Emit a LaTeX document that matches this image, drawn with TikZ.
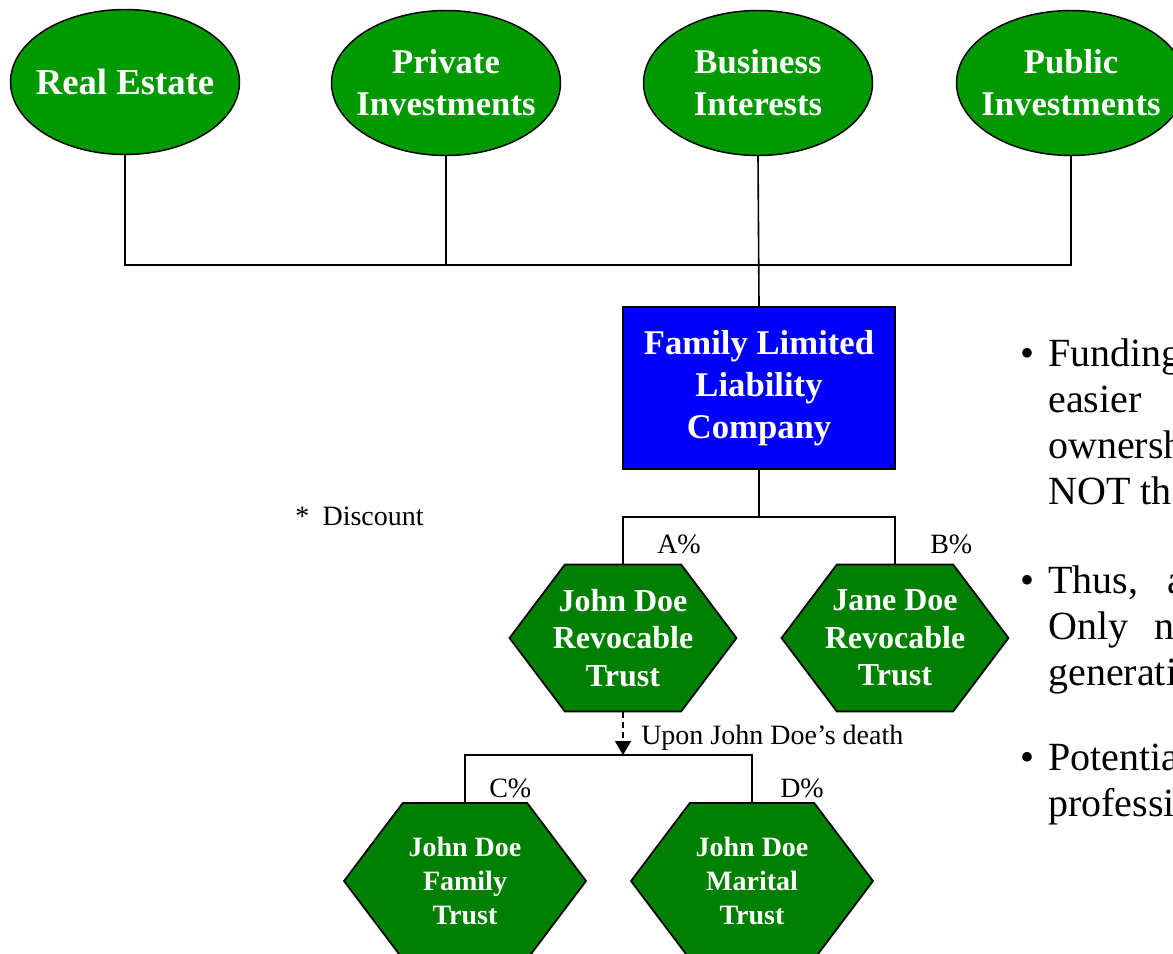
\documentclass[tikz,border=0pt]{standalone}
\usepackage{fontspec}
\setmainfont{Liberation Serif}
\usepackage{xcolor}
\usepackage{tikz}
\usetikzlibrary{positioning,arrows.meta,shapes.geometric,shapes.symbols,calc}
\definecolor{assetgreen}{RGB}{0,153,0}
\definecolor{trustgreen}{RGB}{0,128,0}
\definecolor{llcblue}{RGB}{0,0,255}

\begin{document}
\begin{tikzpicture}[
        x=0.75pt, y=-0.75pt,
        asset/.style={
            ellipse, draw, line width=1.1pt, fill=assetgreen, text=white,
            minimum width=171.75pt, minimum height=108.75pt, inner xsep=-8pt,
            font=\fontsize{26}{31.5}\selectfont\bfseries, align=center
        },
        llc/.style={
            rectangle, draw, line width=1.8pt, fill=llcblue, text=white,
            minimum width=204pt, minimum height=121.5pt,
            font=\fontsize{26}{31.5}\selectfont\bfseries, align=center
        },
        trust/.style={
            signal, signal to=east and west, signal pointer angle=106,
            draw, line width=1.3pt, fill=trustgreen, text=white, align=center,
            inner xsep=-12pt, minimum width=170.25pt, minimum height=110.25pt,
            font=\fontsize{24}{28}\selectfont\bfseries
        },
        subtrust/.style={trust, minimum width=181.5pt, minimum height=117pt,
            font=\fontsize{21}{25.5}\selectfont\bfseries},
        link/.style={line width=1.2pt},
        bus/.style={line width=2pt},
        death/.style={line width=1.1pt, dash pattern=on 4.5pt off 3pt,
            -{Triangle[width=12pt,length=10.5pt]}},
        pct/.style={anchor=base west, inner sep=0pt, font=\fontsize{21}{25}\selectfont},
        note/.style={anchor=base west, inner sep=0pt, align=left,
            font=\fontsize{30}{34.5}\selectfont}
    ]
        \useasboundingbox (0,0) rectangle (1173,953);

        \node[asset, font=\fontsize{27.5}{33}\selectfont\bfseries] (re) at (125,82) {Real Estate};
        \node[asset] (pi) at (446,83)  {Private\\Investments};
        \node[asset] (bi) at (758,83)  {Business\\Interests};
        \node[asset] (pu) at (1071,83) {Public\\Investments};

        \node[llc] (flc) at (759,388) {Family Limited\\Liability\\Company};

        \node[trust] (jdr) at (623,638) {John Doe\\Revocable\\Trust};
        \node[trust] (jar) at (895,638) {Jane Doe\\Revocable\\Trust};

        \node[subtrust] (fam) at (465,881) {John Doe\\Family\\Trust};
        \node[subtrust] (mar) at (752,881) {John Doe\\Marital\\Trust};

        \coordinate (topbus) at (0,265);
        \coordinate (split) at (759,517);
        \coordinate (lowbus) at (623,755);

        \draw[link] (re.south) |- (pu.south |- topbus) -- (pu.south);
        \draw[link] (pi.south) -- (pi.south |- topbus);
        \draw[link] (bi.south) -- (flc.north);
        \draw[bus]  (flc.south) -- (split);
        \draw[bus]  (jdr.north) |- (split) -| (jar.north);
        \draw[death] (jdr.south) -- (lowbus);
        \draw[bus]  (fam.north) |- (lowbus) -| (mar.north);

        \node[pct] (pa) at (657,553) {A\%};
        \node[pct] (pb) at (930,553) {B\%};
        \node[pct] (pc) at (489,797) {C\%};
        \node[pct] (pd) at (780,797) {D\%};
        \node[pct] (upon) at (641,744) {Upon John Doe’s death};
        \node[pct] (disc) at (295,525) {*\hspace{10pt}Discount};

        \node[note] (n1) at (1048,504) {\llap{\textbullet\hspace{10pt}}Funding\\easier\\ownersh\\NOT th};
        \node[note] (n2) at (1048,685) {\llap{\textbullet\hspace{10pt}}Thus,\hspace{22pt}a\\Only\hspace{20pt}ne\\generati};
        \node[note] (n3) at (1048,816) {\llap{\textbullet\hspace{10pt}}Potentia\\professi};
    \end{tikzpicture}
\end{document}
